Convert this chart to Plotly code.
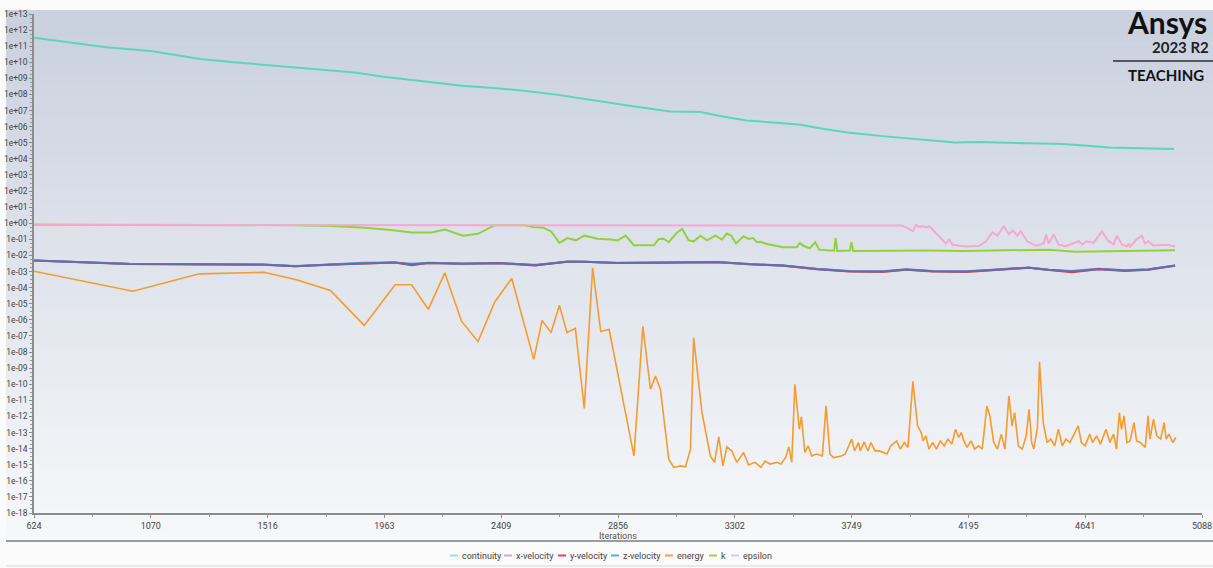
import plotly.graph_objects as go

# ---------------- data ----------------
x_tick_vals = [624, 1070.4, 1516.8, 1963.2, 2409.6, 2856, 3302.4, 3748.8, 4195.2, 4641.6, 5088]
x_tick_text = ["624", "1070", "1516", "1963", "2409", "2856", "3302", "3749", "4195", "4641", "5088"]
y_exponents = list(range(13, -19, -1))

continuity_iter = [624, 760, 900, 1070, 1259, 1400, 1583, 1700, 1849, 1960,
                   2085, 2180, 2260, 2380, 2496, 2620, 2732, 2900, 3055, 3173,
                   3250, 3348, 3450, 3554, 3650, 3733, 3877, 4000, 4144, 4230,
                   4319, 4450, 4554, 4650, 4733, 4850, 4981]
continuity = [3.3e11, 1.7e11, 8.7e10, 5.0e10, 1.6e10, 9.8e9, 5.4e9, 3.5e9, 2.3e9, 1.26e9,
              7.2e8, 5.0e8, 3.5e8, 2.5e8, 1.7e8, 9.8e7, 5.4e7, 2.0e7, 8.7e6, 8.1e6,
              4.5e6, 2.4e6, 1.8e6, 1.3e6, 7.0e5, 4.4e5, 2.5e5, 1.6e5, 1.05e5, 1.1e5,
              1.0e5, 8.5e4, 8.3e4, 6.5e4, 5.1e4, 4.6e4, 4.1e4]

vel_iter = [624, 989, 1497, 1624, 1757, 1877, 2004, 2067, 2131, 2264,
            2400, 2540, 2663, 2727, 2850, 3000, 3234, 3360, 3488, 3615,
            3740, 3868, 3957, 4059, 4185, 4287, 4426, 4502, 4591, 4693,
            4794, 4883, 4947, 4985]
z_velocity = [4.9e-3, 3.0e-3, 2.75e-3, 2.2e-3, 2.75e-3, 3.5e-3, 3.7e-3, 3.0e-3, 3.5e-3, 3.2e-3,
              3.4e-3, 2.6e-3, 4.0e-3, 4.0e-3, 3.5e-3, 3.6e-3, 3.9e-3, 2.9e-3, 2.4e-3, 1.5e-3,
              1.1e-3, 1.05e-3, 1.4e-3, 1.1e-3, 1.05e-3, 1.3e-3, 1.8e-3, 1.3e-3, 1.1e-3, 1.5e-3,
              1.2e-3, 1.4e-3, 1.9e-3, 2.4e-3]
y_velocity = [4.8e-3, 2.9e-3, 2.6e-3, 2.1e-3, 2.6e-3, 3.0e-3, 3.6e-3, 2.5e-3, 3.4e-3, 3.0e-3,
              3.3e-3, 2.4e-3, 4.2e-3, 4.1e-3, 3.4e-3, 3.5e-3, 3.8e-3, 2.8e-3, 2.3e-3, 1.4e-3,
              1.0e-3, 0.95e-3, 1.3e-3, 1.0e-3, 0.95e-3, 1.2e-3, 1.7e-3, 1.25e-3, 0.9e-3, 1.4e-3,
              1.1e-3, 1.3e-3, 1.8e-3, 2.3e-3]
x_velocity = [4.85e-3, 2.95e-3, 2.7e-3, 2.15e-3, 2.7e-3, 3.2e-3, 3.65e-3, 2.7e-3, 3.45e-3, 3.1e-3,
              3.35e-3, 2.5e-3, 4.1e-3, 4.05e-3, 3.45e-3, 3.55e-3, 3.85e-3, 2.85e-3, 2.35e-3, 1.45e-3,
              1.05e-3, 1.0e-3, 1.35e-3, 1.05e-3, 1.0e-3, 1.25e-3, 1.75e-3, 1.28e-3, 1.0e-3, 1.45e-3,
              1.15e-3, 1.35e-3, 1.85e-3, 2.35e-3]

energy_iter = [624, 1002, 1256, 1503, 1624, 1757, 1886, 2004, 2067, 2131,
               2194, 2258, 2321, 2385, 2450, 2534, 2566, 2600, 2632, 2661,
               2693, 2727, 2759, 2790, 2822, 2917, 2951, 2980, 2999, 3018,
               3050, 3069, 3095, 3114, 3133, 3145, 3177, 3209, 3225, 3241,
               3257, 3272, 3291, 3310, 3336, 3355, 3380, 3402, 3418, 3437,
               3463, 3479, 3497, 3509, 3520, 3532, 3549, 3557, 3570, 3583,
               3596, 3615, 3637, 3651, 3666, 3680, 3709, 3724, 3749, 3760,
               3775, 3782, 3797, 3811, 3823, 3838, 3855, 3884, 3899, 3921,
               3935, 3950, 3964, 3983, 4001, 4015, 4022, 4033, 4044, 4059,
               4073, 4088, 4103, 4117, 4132, 4146, 4158, 4168, 4178, 4190,
               4205, 4219, 4234, 4248, 4266, 4277, 4292, 4306, 4321, 4335,
               4350, 4362, 4372, 4386, 4401, 4416, 4427, 4437, 4445, 4459,
               4467, 4481, 4496, 4510, 4525, 4539, 4554, 4568, 4583, 4598,
               4615, 4627, 4641, 4659, 4670, 4685, 4700, 4721, 4736, 4750,
               4761, 4772, 4780, 4790, 4801, 4813, 4828, 4838, 4852, 4871,
               4882, 4889, 4903, 4915, 4930, 4943, 4951, 4962, 4976, 4988]
energy = [1.05e-3, 6e-5, 7.2e-4, 9e-4, 3.2e-4, 6.7e-5, 4.5e-7, 1.5e-4, 1.5e-4, 4.5e-6,
          8.3e-4, 8.3e-7, 4.5e-8, 1.3e-5, 3.7e-4, 3.5e-9, 9.3e-7, 1.6e-7, 8e-6, 1.6e-7,
          3e-7, 3.1e-12, 1.7e-3, 1.9e-7, 2.6e-7, 3.5e-15, 4e-7, 4.9e-11, 3.2e-10, 4.9e-11,
          2.2e-15, 6.8e-16, 8.5e-16, 7.4e-16, 9.3e-15, 7.8e-8, 1.7e-12, 3.5e-15, 1.4e-15, 5.4e-14,
          8.5e-16, 1.3e-14, 7.2e-15, 1.4e-15, 5.8e-15, 9.5e-16, 1.4e-15, 6.8e-16, 1.7e-15, 1.1e-15,
          1.4e-15, 1.1e-15, 2.8e-15, 1.3e-14, 1.4e-15, 1e-10, 1.6e-13, 9.3e-13, 5.8e-15, 1.5e-14,
          3.5e-15, 4.6e-15, 3.5e-15, 4.5e-12, 4.6e-15, 2.8e-15, 3.5e-15, 4.5e-15, 3.9e-14, 7.2e-15,
          2.4e-14, 7.2e-15, 2.6e-14, 7.2e-15, 2.4e-14, 7.2e-15, 7.2e-15, 4.6e-15, 1.5e-14, 3e-14,
          9.3e-15, 2.4e-14, 1.2e-14, 1.5e-10, 2.6e-13, 1e-13, 3e-14, 6.2e-14, 9.3e-15, 2.4e-14,
          9.3e-15, 3e-14, 1.5e-14, 3.9e-14, 1.9e-14, 1.6e-13, 4.9e-14, 1e-13, 3e-14, 1.2e-14,
          3e-14, 9.3e-15, 1.5e-14, 9.3e-15, 4.5e-12, 1.1e-12, 2.4e-14, 9.3e-15, 7.9e-14, 9.3e-15,
          1.9e-11, 2.6e-13, 1.7e-12, 1.5e-14, 9.3e-15, 6.2e-14, 2.8e-12, 2.4e-14, 9.3e-15, 2e-13,
          2.5e-9, 4.2e-13, 2.4e-14, 3.9e-14, 1.5e-14, 1.6e-13, 1.5e-14, 3.9e-14, 2.4e-14, 7.9e-14,
          2.6e-13, 2.4e-14, 1.5e-14, 7.9e-14, 2.4e-14, 6.2e-14, 1.9e-14, 1.6e-13, 2.4e-14, 7.9e-14,
          9.3e-15, 1.7e-12, 1.6e-13, 1.1e-12, 2.4e-14, 3e-14, 4.2e-13, 3e-14, 2.4e-14, 1.2e-14,
          1.1e-12, 3.9e-14, 6.8e-13, 6.2e-14, 3.9e-14, 4.2e-13, 3.9e-14, 7.9e-14, 2.4e-14, 4.9e-14]

k_iter = [624, 1400, 1624, 1757, 1876, 1980, 2066, 2143, 2194, 2264,
          2321, 2385, 2499, 2537, 2568, 2600, 2632, 2663, 2695, 2727,
          2778, 2828, 2854, 2885, 2917, 2993, 3012, 3031, 3050, 3082,
          3101, 3126, 3145, 3171, 3196, 3228, 3253, 3272, 3289, 3307,
          3336, 3355, 3372, 3387, 3399, 3425, 3463, 3488, 3539, 3551,
          3564, 3589, 3610, 3625, 3665, 3682, 3688, 3694, 3742, 3748,
          3755, 3856, 3919, 4046, 4173, 4300, 4420, 4502, 4604, 4700,
          4780, 4860, 4985]
k = [0.8, 0.8, 0.76, 0.68, 0.55, 0.4, 0.27, 0.27, 0.41, 0.17,
     0.22, 0.76, 0.76, 0.56, 0.55, 0.32, 0.06, 0.12, 0.087, 0.17,
     0.11, 0.097, 0.085, 0.17, 0.043, 0.043, 0.107, 0.11, 0.066, 0.27,
     0.45, 0.087, 0.075, 0.17, 0.087, 0.17, 0.097, 0.23, 0.17, 0.055,
     0.155, 0.107, 0.12, 0.066, 0.07, 0.052, 0.041, 0.032, 0.032, 0.06,
     0.04, 0.028, 0.066, 0.023, 0.02, 0.02, 0.12, 0.019, 0.02, 0.066,
     0.019, 0.02, 0.019, 0.02, 0.019, 0.02, 0.021, 0.023, 0.017, 0.018,
     0.018, 0.021, 0.021]

epsilon_iter = [624, 3500, 3881, 3900, 3940, 3957, 3983, 3995, 4008, 4021,
                4035, 4046, 4064, 4084, 4109, 4122, 4134, 4160, 4185, 4236,
                4262, 4287, 4306, 4331, 4350, 4365, 4382, 4395, 4420, 4452,
                4483, 4492, 4502, 4521, 4540, 4566, 4598, 4617, 4630, 4648,
                4674, 4706, 4725, 4750, 4763, 4782, 4801, 4807, 4813, 4839,
                4858, 4870, 4883, 4902, 4934, 4959, 4985]
epsilon = [0.82, 0.8, 0.8, 0.78, 0.72, 0.55, 0.32, 0.8, 0.6, 0.65,
           0.55, 0.65, 0.32, 0.17, 0.055, 0.1, 0.048, 0.04, 0.036, 0.038,
           0.076, 0.27, 0.17, 0.65, 0.21, 0.36, 0.17, 0.32, 0.076, 0.04,
           0.055, 0.2, 0.055, 0.2, 0.048, 0.038, 0.055, 0.076, 0.048, 0.076,
           0.06, 0.32, 0.098, 0.048, 0.17, 0.048, 0.036, 0.055, 0.036, 0.1,
           0.17, 0.055, 0.076, 0.042, 0.044, 0.044, 0.036]

series_names = ["continuity", "x-velocity", "y-velocity", "z-velocity", "energy", "k", "epsilon"]
series_x = [continuity_iter, vel_iter, vel_iter, vel_iter, energy_iter, k_iter, epsilon_iter]
series_y = [continuity, x_velocity, y_velocity, z_velocity, energy, k, epsilon]
series_colors = ["#5bd6bd", "#6d69a6", "#e5393f", "#4a9de0", "#f59b2f", "#93d13c", "#f4a8d3"]
legend_colors = ["#9fe0d0", "#b8b6d6", "#e8454a", "#5aa7e2", "#f5a43e", "#9ad64a", "#f6bede"]
series_widths = [2, 2, 2, 2, 1.6, 2, 2]
draw_order = ["continuity", "energy", "k", "epsilon", "y-velocity", "z-velocity", "x-velocity"]

fig = go.Figure()
for name in draw_order:
    i = series_names.index(name)
    fig.add_trace(go.Scatter(x=series_x[i], y=series_y[i], mode="lines", name=name,
                             line=dict(color=series_colors[i], width=series_widths[i]),
                             showlegend=False))

# ---------------- layout helpers ----------------
W, H = 1213, 568
L, R, T, B = 34, 1202, 14, 513
def px2paper_x(px):
    return (px - L) / (R - L)
def px2paper_y(py):
    return (B - py) / (B - T)

top_rgb = (201, 208, 222)
bot_rgb = (247, 248, 250)
shapes = []
n_bands = 80
y0_px, y1_px = 10, 541
for i in range(n_bands):
    a = y0_px + (y1_px - y0_px) * i / n_bands
    b = y0_px + (y1_px - y0_px) * (i + 1) / n_bands + 0.6
    t = (i + 0.5) / n_bands
    c = tuple(round(top_rgb[j] + (bot_rgb[j] - top_rgb[j]) * t) for j in range(3))
    shapes.append(dict(type="rect", xref="paper", yref="paper", layer="below",
                       x0=px2paper_x(6), x1=px2paper_x(W + 2),
                       y0=px2paper_y(b), y1=px2paper_y(a),
                       fillcolor="rgb(%d,%d,%d)" % c, line=dict(width=0)))
# separator lines
shapes.append(dict(type="line", xref="paper", yref="paper", layer="above",
                   x0=px2paper_x(6), x1=px2paper_x(W + 2), y0=px2paper_y(541), y1=px2paper_y(541),
                   line=dict(color="#7d7d7d", width=1.5)))
shapes.append(dict(type="line", xref="paper", yref="paper", layer="above",
                   x0=px2paper_x(6), x1=px2paper_x(W + 2), y0=px2paper_y(566), y1=px2paper_y(566),
                   line=dict(color="#d8d8d8", width=1)))
# logo rule
shapes.append(dict(type="line", xref="paper", yref="paper", layer="above",
                   x0=px2paper_x(1113), x1=px2paper_x(W + 2), y0=px2paper_y(61), y1=px2paper_y(61),
                   line=dict(color="#55575c", width=2)))

annotations = [
    dict(text="<b>Ansys</b>", xref="paper", yref="paper", x=px2paper_x(1209), y=px2paper_y(22),
         xanchor="right", yanchor="middle", showarrow=False,
         font=dict(family="Lato, Inter, sans-serif", size=30, color="#111111")),
    dict(text="<b>2023 R2</b>", xref="paper", yref="paper", x=px2paper_x(1211), y=px2paper_y(47),
         xanchor="right", yanchor="middle", showarrow=False,
         font=dict(family="Lato, Inter, sans-serif", size=15, color="#222222")),
    dict(text="<b>TEACHING</b>", xref="paper", yref="paper", x=px2paper_x(1206), y=px2paper_y(75),
         xanchor="right", yanchor="middle", showarrow=False,
         font=dict(family="Lato, Inter, sans-serif", size=15, color="#111111")),
    dict(text="Iterations", xref="paper", yref="paper", x=px2paper_x(618), y=px2paper_y(536),
         xanchor="center", yanchor="middle", showarrow=False,
         font=dict(size=9, color="#555555")),
]

# manual legend (short line sample + label)
legend_line_x = [450, 504, 558, 611, 665, 709, 731]
legend_y = 555.5
for i, name in enumerate(series_names):
    x0 = legend_line_x[i]
    shapes.append(dict(type="line", xref="paper", yref="paper", layer="above",
                       x0=px2paper_x(x0), x1=px2paper_x(x0 + 8),
                       y0=px2paper_y(legend_y), y1=px2paper_y(legend_y),
                       line=dict(color=legend_colors[i], width=2)))
    annotations.append(dict(text=name, xref="paper", yref="paper",
                            x=px2paper_x(x0 + 10), y=px2paper_y(legend_y),
                            xanchor="left", yanchor="middle", showarrow=False,
                            font=dict(size=9, color="#444444")))

fig.update_layout(
    width=W, height=H,
    margin=dict(l=L, r=W - R, t=T, b=H - B, autoexpand=False),
    paper_bgcolor="#fbfbfc",
    plot_bgcolor="rgba(0,0,0,0)",
    font=dict(family="Roboto, 'Noto Sans', sans-serif", size=9, color="#444444"),
    showlegend=False,
    shapes=shapes,
    annotations=annotations,
)

fig.update_xaxes(
    range=[624, 5088], tickmode="array", tickvals=x_tick_vals, ticktext=x_tick_text,
    automargin=False,
    showgrid=False, zeroline=False, showline=True, linecolor="#8c8c8c", linewidth=1.5,
    ticks="outside", ticklen=3, tickcolor="#8c8c8c",
    minor=dict(tickmode="linear", tick0=624, dtick=223.2, ticks="outside", ticklen=2, tickcolor="#9a9a9a"),
    tickfont=dict(size=9, color="#444444"),
)
fig.update_yaxes(
    type="log", range=[-18, 13], tickmode="array",
    tickvals=[10.0 ** e for e in y_exponents],
    ticktext=[f"{10.0 ** e:.0e}" for e in y_exponents],
    automargin=False,
    showgrid=False, zeroline=False, showline=True, linecolor="#8c8c8c", linewidth=1.5,
    ticks="outside", ticklen=3, tickcolor="#8c8c8c",
    minor=dict(tickmode="linear", tick0=0, dtick=0.25, ticks="outside", ticklen=2, tickcolor="#9a9a9a"),
    tickfont=dict(size=8.5, color="#444444"),
)

fig.write_html("out.html",
               config={"displayModeBar": False},
               post_script="document.body.style.margin='0';document.body.style.overflow='hidden';")
